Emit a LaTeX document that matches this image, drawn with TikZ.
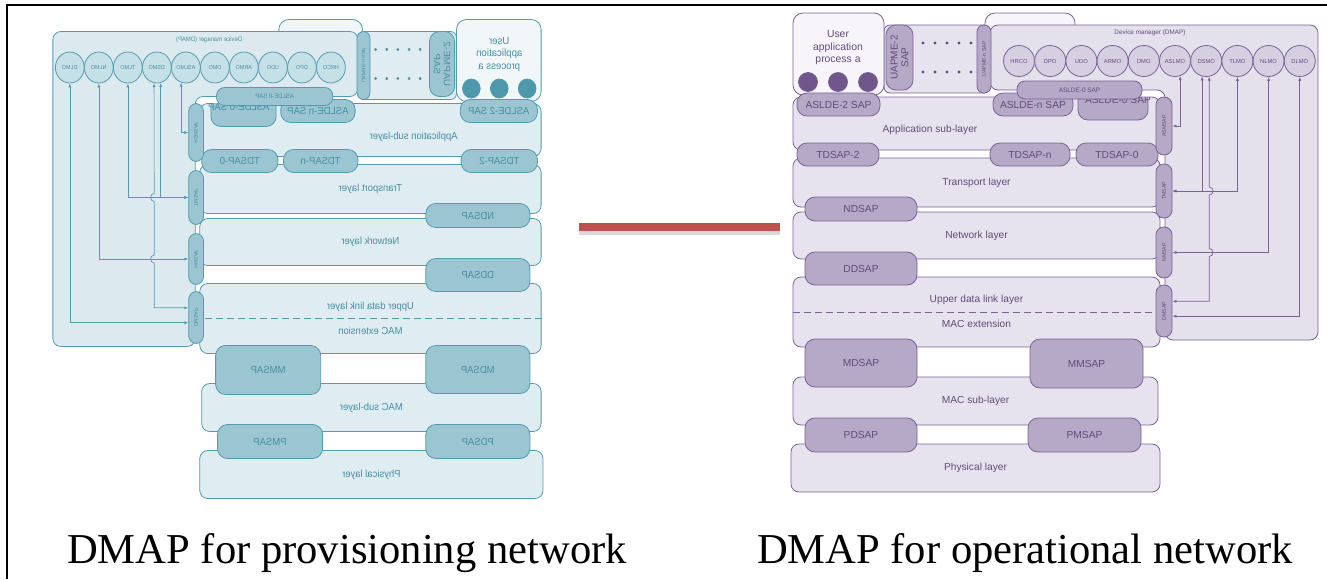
\documentclass[tikz,border=0pt]{standalone}
\usepackage{fontspec}
\usepackage{tikz}
\usetikzlibrary{arrows.meta}
\newfontfamily\dmsans{Liberation Sans}
\newfontfamily\capserif{Liberation Serif}
\definecolor{plline}{RGB}{122,98,150}
\definecolor{plfill}{RGB}{231,227,238}
\definecolor{plbox}{RGB}{228,224,236}
\definecolor{plpill}{RGB}{182,168,199}
\definecolor{plcirc}{RGB}{214,207,225}
\definecolor{pltext}{RGB}{96,76,122}
\definecolor{pldot}{RGB}{112,86,138}
\definecolor{pluser}{RGB}{247,245,249}
\definecolor{tlline}{RGB}{82,156,176}
\definecolor{tlfill}{RGB}{223,236,241}
\definecolor{tlbox}{RGB}{220,234,239}
\definecolor{tlpill}{RGB}{156,197,210}
\definecolor{tlcirc}{RGB}{198,224,231}
\definecolor{tltext}{RGB}{72,142,162}
\definecolor{tldot}{RGB}{78,152,172}
\definecolor{tluser}{RGB}{241,247,249}
\definecolor{linkred}{RGB}{192,80,77}
\colorlet{dmline}{plline}
\colorlet{dmfill}{plfill}
\colorlet{dmbox}{plbox}
\colorlet{dmpill}{plpill}
\colorlet{dmcirc}{plcirc}
\colorlet{dmtext}{pltext}
\colorlet{dmdot}{pldot}
\colorlet{dmuser}{pluser}

\begin{document}
\begin{tikzpicture}[x=0.5pt, y=-0.5pt,
    layer/.style={draw=dmline, fill=dmfill, rounded corners=4pt, inner sep=0pt,
      text=dmtext, font=\dmsans\fontsize{5.1}{6}\selectfont},
    layertext/.style={text=dmtext, font=\dmsans\fontsize{5.1}{6}\selectfont, inner sep=0pt},
    sap/.style={layer, fill=dmpill, rounded corners=5pt},
    msap/.style={sap, rotate=90, minimum height=8pt, rounded corners=3.9pt,
      font=\dmsans\fontsize{2.6}{3}\selectfont},
    tinytext/.style={text=dmtext, font=\dmsans\fontsize{3.2}{4}\selectfont, inner sep=0pt},
    mocircle/.style={circle, draw=dmline, fill=dmcirc, minimum size=15.5pt, inner sep=0pt,
      text=dmtext, font=\dmsans\fontsize{2.9}{3.4}\selectfont},
    appdot/.style={circle, draw=dmline, fill=dmdot, minimum size=9.5pt, inner sep=0pt},
    userbox/.style={draw=dmline, fill=dmuser, rounded corners=5pt, inner sep=0pt},
    dmapbox/.style={draw=dmline, fill=dmbox, rounded corners=4pt},
    mgmt/.style={{Latex[length=2pt,width=1.5pt]}-{Latex[length=2pt,width=1.5pt]},
      draw=dmline, line width=0.35pt},
    caption/.style={font=\capserif\fontsize{21.3}{25}\selectfont, anchor=base, inner sep=0pt},
    link/.style={draw=linkred, line width=3.6pt},
    linkshadow/.style={draw=black, opacity=0.15, line width=4.5pt},
    dmapstack/.pic={
      \node[userbox, minimum width=45pt, minimum height=16pt] (hid) at (1030,29) {};
      \node[layer, rounded corners=3pt, minimum width=53pt, minimum height=34pt] (uapme) at (937,59) {};
      \foreach \dx in {923,935,947,959,971}
        \fill[dmtext] (\dx,43) circle[radius=0.8pt] (\dx,72) circle[radius=0.8pt];
      \draw[dmapbox] (990,25) -- (1318,25) -- (1318,340) -- (1165,340) -- (1165,90) -- (990,90) -- cycle;
      \node[tinytext] (dmtitle) at (1150,33) {Device manager (DMAP)};
      \foreach \lab [count=\i from 0] in {HRCO,DPO,UDO,ARMO,DMO,ASLMO,DSMO,TLMO,NLMO,DLMO}
        \node[mocircle] (\lab) at ({1019+31.2*\i},61) {\lab};
      \node[sap, rotate=90, minimum width=32.5pt, minimum height=13.5pt, align=center,
        font=\dmsans\fontsize{5}{5.4}\selectfont] (uapme2) at (899.5,57.5) {UAPME-2\\SAP};
      \node[msap, minimum width=34pt, minimum height=7pt, rounded corners=3.4pt] (uapmen) at (984,59) {UAPME-n SAP};
      \node[userbox, minimum width=45.5pt, minimum height=41pt] (userapp) at (838.5,54) {};
      \node[layertext, align=center, font=\dmsans\fontsize{5.2}{6.25}\selectfont] (usertxt) at (838,47.5)
        {User\\application\\process a};
      \foreach \dx [count=\k] in {808,838,868}
        \node[appdot] (dot\k) at (\dx,82) {};
      % layers
      \node[layer, minimum width=183.5pt, minimum height=26.5pt] (app) at (976.5,123.5) {};
      \node[layertext] (apptxt) at (930,130) {Application sub-layer};
      \node[layer, minimum width=183.5pt, minimum height=24.5pt] (tl) at (976.5,182.5) {Transport layer};
      \node[layer, minimum width=183.5pt, minimum height=23.5pt] (nl) at (976.5,235.5) {Network layer};
      \node[layer, minimum width=183.5pt, minimum height=35pt] (udl) at (976.5,312) {};
      \node[layertext] (udltxt) at (976.5,300) {Upper data link layer};
      \node[layertext] (mactxt) at (976.5,324) {MAC extension};
      \draw[dmline, dash pattern=on 3.5pt off 2pt] (udl.west) -- (udl.east);
      \node[layer, minimum width=182.5pt, minimum height=24pt] (mac) at (975.5,401) {MAC sub-layer};
      \node[layer, minimum width=184.5pt, minimum height=24pt] (phy) at (975.5,468) {Physical layer};
      \begin{scope}
        \clip (1070,97) rectangle (1160,125);
        \node[sap, minimum width=35pt, minimum height=15pt] (asl0) at (1113,105) {};
        \node[layertext] (asl0txt) at (1118,100) {ASLDE-0 SAP};
      \end{scope}
      % service access points
      \node[sap, minimum width=41.5pt, minimum height=11.5pt] (asl2) at (838.5,104.5) {ASLDE-2 SAP};
      \node[sap, minimum width=40pt, minimum height=11.5pt] (asln) at (1033,104.5) {ASLDE-n SAP};
      \node[sap, minimum width=62.5pt, minimum height=9pt, rounded corners=4pt,
        font=\dmsans\fontsize{3.2}{4}\selectfont] (asl0s) at (1079.5,90) {ASLDE-0 SAP};
      \node[sap, minimum width=41pt, minimum height=11.5pt] (tds2) at (838,154.5) {TDSAP-2};
      \node[sap, minimum width=40pt, minimum height=11.5pt] (tdsn) at (1030,154.5) {TDSAP-n};
      \node[sap, minimum width=41pt, minimum height=11.5pt] (tds0) at (1117,154.5) {TDSAP-0};
      \node[sap, minimum width=56pt, minimum height=12pt] (nd) at (861,209) {NDSAP};
      \node[sap, minimum width=56pt, minimum height=16.5pt] (dd) at (861,268.5) {DDSAP};
      \node[sap, minimum width=56pt, minimum height=24pt] (md) at (861,363) {MDSAP};
      \node[sap, minimum width=56.5pt, minimum height=24.5pt] (mm) at (1086.5,363.5) {MMSAP};
      \node[sap, minimum width=56pt, minimum height=17pt] (pd) at (861,435) {PDSAP};
      \node[sap, minimum width=56.5pt, minimum height=17pt] (pm) at (1084.5,435) {PMSAP};
      \node[msap, minimum width=29pt] (asm) at (1164,126) {ASMSAP};
      \node[msap, minimum width=27pt] (tm) at (1164,191) {TMSAP};
      \node[msap, minimum width=25.5pt] (nm) at (1164,252.5) {NMSAP};
      \node[msap, minimum width=26pt] (dm) at (1164,311) {DMSAP};
      % management links
      \coordinate (hopa) at (DSMO.-79 |- tm.south);
      \coordinate (hopb) at (DSMO.-79 |- nm.south);
      \draw[mgmt] (DSMO.-79) -- ([yshift=2pt]hopa) to[out=0, in=0, looseness=1.6] ([yshift=-2pt]hopa)
        -- ([yshift=2pt]hopb) to[out=0, in=0, looseness=1.6] ([yshift=-2pt]hopb) |- (dm.-41.6);
      \draw[mgmt] (ASLMO.-71) |- (asm.south);
      \draw[mgmt] (DSMO.-105) |- (tm.south);
      \draw[mgmt] (TLMO.south) |- (tm.south);
      \draw[mgmt] (NLMO.south) |- (nm.south);
      \draw[mgmt] (DLMO.south) |- (dm.-122);
    }
  ]
  \fill[white] (0,0) rectangle (1327,579);
  \useasboundingbox (0,0) rectangle (1327,579);
  \draw[line width=0.75pt] (7,579) -- (7,5) -- (1327,5);

  % mirrored copy of the stack
  \begin{scope}[shift={(1278.6,6.5)}, xscale=-0.93, transform shape]
    \colorlet{dmline}{tlline}
    \colorlet{dmfill}{tlfill}
    \colorlet{dmbox}{tlbox}
    \colorlet{dmpill}{tlpill}
    \colorlet{dmcirc}{tlcirc}
    \colorlet{dmtext}{tltext}
    \colorlet{dmdot}{tldot}
    \colorlet{dmuser}{tluser}
    \pic[transform shape] (L) {dmapstack};
  \end{scope}
  \pic[transform shape] (R) {dmapstack};

  \coordinate (linkL) at (579,227);
  \coordinate (linkR) at (780,227);
  \draw[linkshadow] ([yshift=-1.5pt]linkL) -- ([yshift=-1.5pt]linkR);
  \draw[link] (linkL) -- (linkR);

  \node[caption] (capL) at (347,563) {DMAP for provisioning network};
  \node[caption] (capR) at (1025,563) {DMAP for operational network};
\end{tikzpicture}
\end{document}
